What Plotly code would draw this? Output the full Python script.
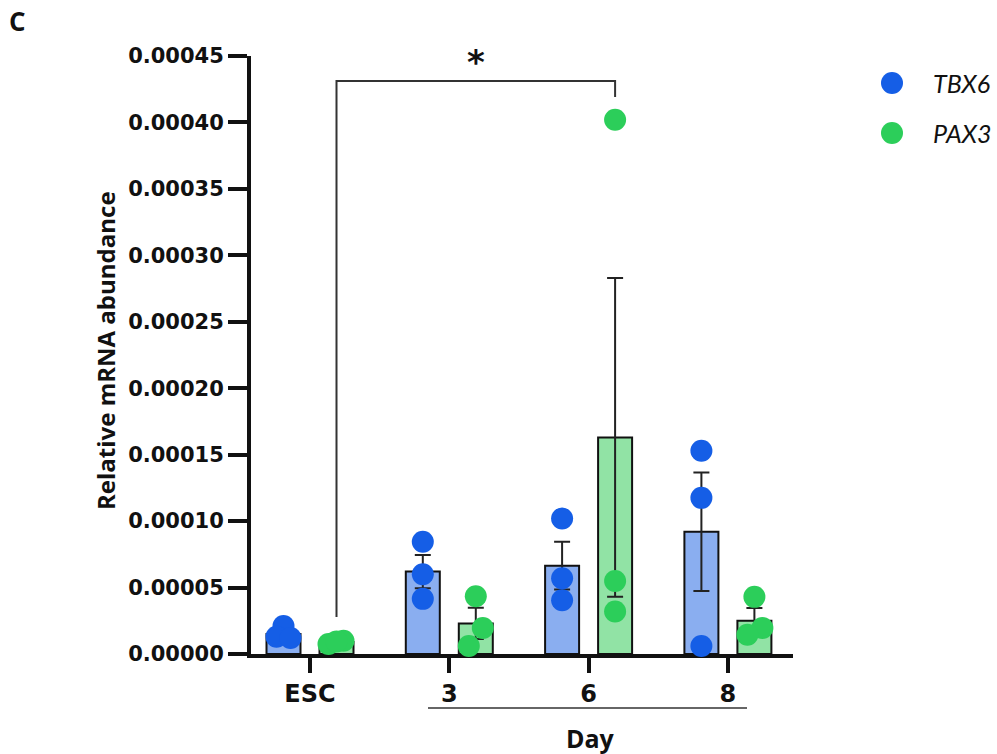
import plotly.graph_objects as go

# ---------------- data ----------------
categories = ["ESC", "3", "6", "8"]

tbx6_points = [
    [2.1e-5, 1.3e-5, 1.2e-5],
    [8.45e-5, 6.0e-5, 4.15e-5],
    [1.02e-4, 5.7e-5, 4.05e-5],
    [1.53e-4, 1.175e-4, 0.6e-5],
]
pax3_points = [
    [0.75e-5, 1.0e-5, 0.95e-5],
    [4.35e-5, 1.95e-5, 0.6e-5],
    [4.02e-4, 5.5e-5, 3.2e-5],
    [4.3e-5, 1.95e-5, 1.45e-5],
]
tbx6_mean = [1.5e-5, 6.2e-5, 6.65e-5, 9.2e-5]
tbx6_sem = [0.3e-5, 1.25e-5, 1.8e-5, 4.45e-5]
pax3_mean = [0.9e-5, 2.3e-5, 1.63e-4, 2.5e-5]
pax3_sem = [0.1e-5, 1.18e-5, 1.2e-4, 0.97e-5]

y_ticks = [0.0, 0.00005, 0.0001, 0.00015, 0.0002, 0.00025, 0.0003, 0.00035, 0.0004, 0.00045]

# ---------------- style / layout constants ----------------
PX_PER_CAT = 139.3           # pixel spacing between categories
OFF = 26.5 / PX_PER_CAT      # bar offset from the tick
BAR_W = 34 / PX_PER_CAT
# small horizontal jitter (pixels) for overlapping points
tbx6_jit = [[0, -7, 7], [0, 0, 0], [0, 0, 0], [0, 0, 0]]
pax3_jit = [[-8, 7, 0], [0, 7, -7], [0, 0, 0], [0, 8, -7]]

BLUE_DOT = "#155ee6"
BLUE_BAR = "#8aaef0"
GREEN_DOT = "#2cce5a"
GREEN_BAR = "#91e3a5"
INK = "#111111"

pos = list(range(len(categories)))
tb_x = [p - OFF for p in pos]
pa_x = [p + OFF for p in pos]

def scatter_xy(points, jit, centers):
    xs, ys = [], []
    for c, pts, js in zip(centers, points, jit):
        for v, j in zip(pts, js):
            xs.append(c + j / PX_PER_CAT)
            ys.append(v)
    return xs, ys

fig = go.Figure()
err = dict(type="data", color="#222222", thickness=2, width=8)
fig.add_trace(go.Bar(x=tb_x, y=tbx6_mean, width=BAR_W, marker=dict(color=BLUE_BAR, line=dict(color=INK, width=2)),
                     error_y=dict(err, array=tbx6_sem), showlegend=False))
fig.add_trace(go.Bar(x=pa_x, y=pax3_mean, width=BAR_W, marker=dict(color=GREEN_BAR, line=dict(color=INK, width=2)),
                     error_y=dict(err, array=pax3_sem), showlegend=False))
sx, sy = scatter_xy(tbx6_points, tbx6_jit, tb_x)
fig.add_trace(go.Scatter(x=sx, y=sy, mode="markers", marker=dict(size=22, color=BLUE_DOT), cliponaxis=False,
                         name="TBX6", showlegend=False))
sx, sy = scatter_xy(pax3_points, pax3_jit, pa_x)
fig.add_trace(go.Scatter(x=sx, y=sy, mode="markers", marker=dict(size=22, color=GREEN_DOT), cliponaxis=False,
                         name="PAX3", showlegend=False))

L, R, T, B = 251, 204, 56, 100
W, H = 997, 754
pw, ph = W - L - R, H - T - B
def px(xp):
    return (xp - L) / pw
def py(yp):
    return (H - B - yp) / ph

x_left = -(310 - L) / PX_PER_CAT
x_right = (L + pw - 310) / PX_PER_CAT

def ypx(yp):  # pixel -> data value on y
    return (654 - yp) / 598 * 0.00045

shapes = []
# significance bracket
bl, br = tb_x[0] + 2 * OFF, pa_x[2]
shapes.append(dict(type="path", xref="x", yref="y",
                   path=f"M {bl},{ypx(617)} L {bl},{ypx(81)} L {br},{ypx(81)} L {br},{ypx(97)}",
                   line=dict(color="#333333", width=2)))
# Day line
shapes.append(dict(type="line", xref="x", yref="paper", x0=(428 - 310) / PX_PER_CAT, x1=(747 - 310) / PX_PER_CAT,
                   y0=py(708), y1=py(708), line=dict(color="#333333", width=1.5)))
# legend markers
for yy, col in [(83, BLUE_DOT), (133, GREEN_DOT)]:
    shapes.append(dict(type="circle", xref="paper", yref="paper", xsizemode="pixel", ysizemode="pixel",
                       xanchor=px(892), yanchor=py(yy), x0=-11, x1=11, y0=-11, y1=11,
                       fillcolor=col, line=dict(width=0)))

def ann(text, x, y, xref, yref, font, xanchor="center", **kw):
    return dict(text=text, x=x, y=y, xref=xref, yref=yref, showarrow=False, font=font,
                xanchor=xanchor, yanchor="middle", **kw)

annotations = [
    ann("*", (bl + br) / 2, ypx(62), "x", "y", dict(family="DejaVu Sans", size=34, color=INK, weight="bold")),
    ann("Day", (590 - 310) / PX_PER_CAT, py(738), "x", "paper", dict(family="Open Sans", size=25, color=INK, weight="bold")),
    ann("Relative mRNA abundance", px(105), py(351), "paper", "paper",
        dict(family="Open Sans", size=24, color=INK, weight="bold"), textangle=-90),
    ann("C", px(17), py(21), "paper", "paper", dict(family="Open Sans", size=26, color=INK, weight="bold")),
    ann("<i>TBX6</i>", px(931), py(83), "paper", "paper", dict(family="Lato", size=25, color=INK), xanchor="left"),
    ann("<i>PAX3</i>", px(931), py(133), "paper", "paper", dict(family="Lato", size=25, color=INK), xanchor="left"),
]

fig.update_layout(
    width=W, height=H, margin=dict(l=L, r=R, t=T, b=B, autoexpand=False),
    plot_bgcolor="white", paper_bgcolor="white", barmode="overlay",
    shapes=shapes, annotations=annotations,
    xaxis=dict(range=[x_left, x_right], tickvals=pos, ticktext=categories, showgrid=False, zeroline=False,
               showline=True, linecolor=INK, linewidth=4, ticks="outside", ticklen=15, tickwidth=4, tickcolor=INK,
               tickfont=dict(family="DejaVu Sans", size=24, color=INK, weight="bold"), layer="below traces"),
    yaxis=dict(range=[0, 0.00045], tickvals=y_ticks, tickformat=".5f", showgrid=False, zeroline=False,
               showline=True, linecolor=INK, linewidth=4, ticks="outside", ticklen=19, tickwidth=4, tickcolor=INK,
               tickfont=dict(family="DejaVu Sans", size=21, color=INK, weight="bold"), layer="below traces"),
)

fig.write_html("out.html", config={"displayModeBar": False},
               post_script="document.body.style.margin='0px';document.body.style.overflow='hidden';")
